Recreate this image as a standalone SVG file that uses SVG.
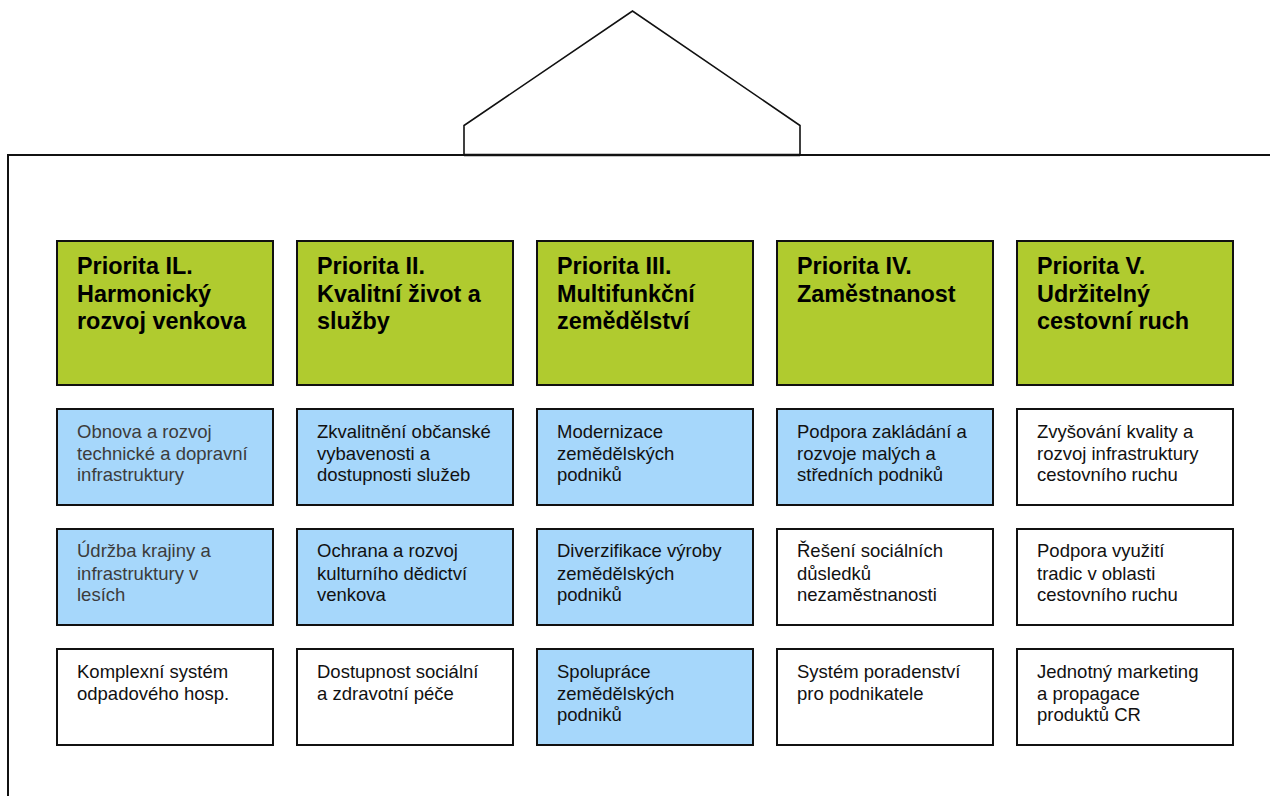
<svg xmlns="http://www.w3.org/2000/svg" width="1270" height="796" viewBox="0 0 1270 796">
<style>
.frame{fill:none;stroke:#111;stroke-width:2}
.house{fill:#fff;stroke:#111;stroke-width:1.6;stroke-linejoin:miter}
.box{stroke:#111;stroke-width:2}
.hdr{fill:#b0cb2f}
.blue{fill:#a6d7fb}
.white{fill:#fff}
.ht{font-family:"Liberation Sans",Arial,sans-serif;font-weight:bold;font-size:23.4px;fill:#000}
.bt{font-family:"Liberation Sans",Arial,sans-serif;font-size:18.5px;fill:#111}
.gt{fill:#3c3c3c}
</style>
<g id="frame">
<path class="frame" d="M8,796 V155 H1270"/>
<polyline class="house" points="464,155 464,125.5 632.5,11 800,125.5 800,155"/>
<line x1="464" y1="155" x2="800" y2="155" stroke="#111" stroke-width="2.4"/>
</g>
<g id="connectors"></g>

<g id="p1">
<rect class="box hdr" x="57" y="241" width="216" height="144"/>
<text class="ht" x="77" y="274">Priorita IL.</text>
<text class="ht" x="77" y="301.5">Harmonický</text>
<text class="ht" x="77" y="329">rozvoj venkova</text>
</g>
<g id="p2">
<rect class="box hdr" x="297" y="241" width="216" height="144"/>
<text class="ht" x="317" y="274">Priorita II.</text>
<text class="ht" x="317" y="301.5">Kvalitní život a</text>
<text class="ht" x="317" y="329">služby</text>
</g>
<g id="p3">
<rect class="box hdr" x="537" y="241" width="216" height="144"/>
<text class="ht" x="557" y="274">Priorita III.</text>
<text class="ht" x="557" y="301.5">Multifunkční</text>
<text class="ht" x="557" y="329">zemědělství</text>
</g>
<g id="p4">
<rect class="box hdr" x="777" y="241" width="216" height="144"/>
<text class="ht" x="797" y="274">Priorita IV.</text>
<text class="ht" x="797" y="301.5">Zaměstnanost</text>
</g>
<g id="p5">
<rect class="box hdr" x="1017" y="241" width="216" height="144"/>
<text class="ht" x="1037" y="274">Priorita V.</text>
<text class="ht" x="1037" y="301.5">Udržitelný</text>
<text class="ht" x="1037" y="329">cestovní ruch</text>
</g>

<!-- row 1 -->
<g id="r1c1">
<rect class="box blue" x="57" y="409" width="216" height="96"/>
<text class="bt gt" x="77" y="437.5">Obnova a rozvoj</text>
<text class="bt gt" x="77" y="459.5">technické a dopravní</text>
<text class="bt gt" x="77" y="481">infrastruktury</text>
</g>
<g id="r1c2">
<rect class="box blue" x="297" y="409" width="216" height="96"/>
<text class="bt" x="317" y="437.5">Zkvalitnění občanské</text>
<text class="bt" x="317" y="459.5">vybavenosti a</text>
<text class="bt" x="317" y="481">dostupnosti služeb</text>
</g>
<g id="r1c3">
<rect class="box blue" x="537" y="409" width="216" height="96"/>
<text class="bt" x="557" y="437.5">Modernizace</text>
<text class="bt" x="557" y="459.5">zemědělských</text>
<text class="bt" x="557" y="481">podniků</text>
</g>
<g id="r1c4">
<rect class="box blue" x="777" y="409" width="216" height="96"/>
<text class="bt" x="797" y="437.5">Podpora zakládání a</text>
<text class="bt" x="797" y="459.5">rozvoje malých a</text>
<text class="bt" x="797" y="481">středních podniků</text>
</g>
<g id="r1c5">
<rect class="box white" x="1017" y="409" width="216" height="96"/>
<text class="bt" x="1037" y="437.5">Zvyšování kvality a</text>
<text class="bt" x="1037" y="459.5">rozvoj infrastruktury</text>
<text class="bt" x="1037" y="481">cestovního ruchu</text>
</g>

<!-- row 2 -->
<g id="r2c1">
<rect class="box blue" x="57" y="529" width="216" height="96"/>
<text class="bt gt" x="77" y="557">Údržba krajiny a</text>
<text class="bt gt" x="77" y="579.5">infrastruktury v</text>
<text class="bt gt" x="77" y="601">lesích</text>
</g>
<g id="r2c2">
<rect class="box blue" x="297" y="529" width="216" height="96"/>
<text class="bt" x="317" y="557">Ochrana a rozvoj</text>
<text class="bt" x="317" y="579.5">kulturního dědictví</text>
<text class="bt" x="317" y="601">venkova</text>
</g>
<g id="r2c3">
<rect class="box blue" x="537" y="529" width="216" height="96"/>
<text class="bt" x="557" y="557">Diverzifikace výroby</text>
<text class="bt" x="557" y="579.5">zemědělských</text>
<text class="bt" x="557" y="601">podniků</text>
</g>
<g id="r2c4">
<rect class="box white" x="777" y="529" width="216" height="96"/>
<text class="bt" x="797" y="557">Řešení sociálních</text>
<text class="bt" x="797" y="579.5">důsledků</text>
<text class="bt" x="797" y="601">nezaměstnanosti</text>
</g>
<g id="r2c5">
<rect class="box white" x="1017" y="529" width="216" height="96"/>
<text class="bt" x="1037" y="557">Podpora využití</text>
<text class="bt" x="1037" y="579.5">tradic v oblasti</text>
<text class="bt" x="1037" y="601">cestovního ruchu</text>
</g>

<!-- row 3 -->
<g id="r3c1">
<rect class="box white" x="57" y="649" width="216" height="96"/>
<text class="bt" x="77" y="677.5">Komplexní systém</text>
<text class="bt" x="77" y="699.5">odpadového hosp.</text>
</g>
<g id="r3c2">
<rect class="box white" x="297" y="649" width="216" height="96"/>
<text class="bt" x="317" y="677.5">Dostupnost sociální</text>
<text class="bt" x="317" y="699.5">a zdravotní péče</text>
</g>
<g id="r3c3">
<rect class="box blue" x="537" y="649" width="216" height="96"/>
<text class="bt" x="557" y="677.5">Spolupráce</text>
<text class="bt" x="557" y="699.5">zemědělských</text>
<text class="bt" x="557" y="721">podniků</text>
</g>
<g id="r3c4">
<rect class="box white" x="777" y="649" width="216" height="96"/>
<text class="bt" x="797" y="677.5">Systém poradenství</text>
<text class="bt" x="797" y="699.5">pro podnikatele</text>
</g>
<g id="r3c5">
<rect class="box white" x="1017" y="649" width="216" height="96"/>
<text class="bt" x="1037" y="677.5">Jednotný marketing</text>
<text class="bt" x="1037" y="699.5">a propagace</text>
<text class="bt" x="1037" y="721">produktů CR</text>
</g>
</svg>
